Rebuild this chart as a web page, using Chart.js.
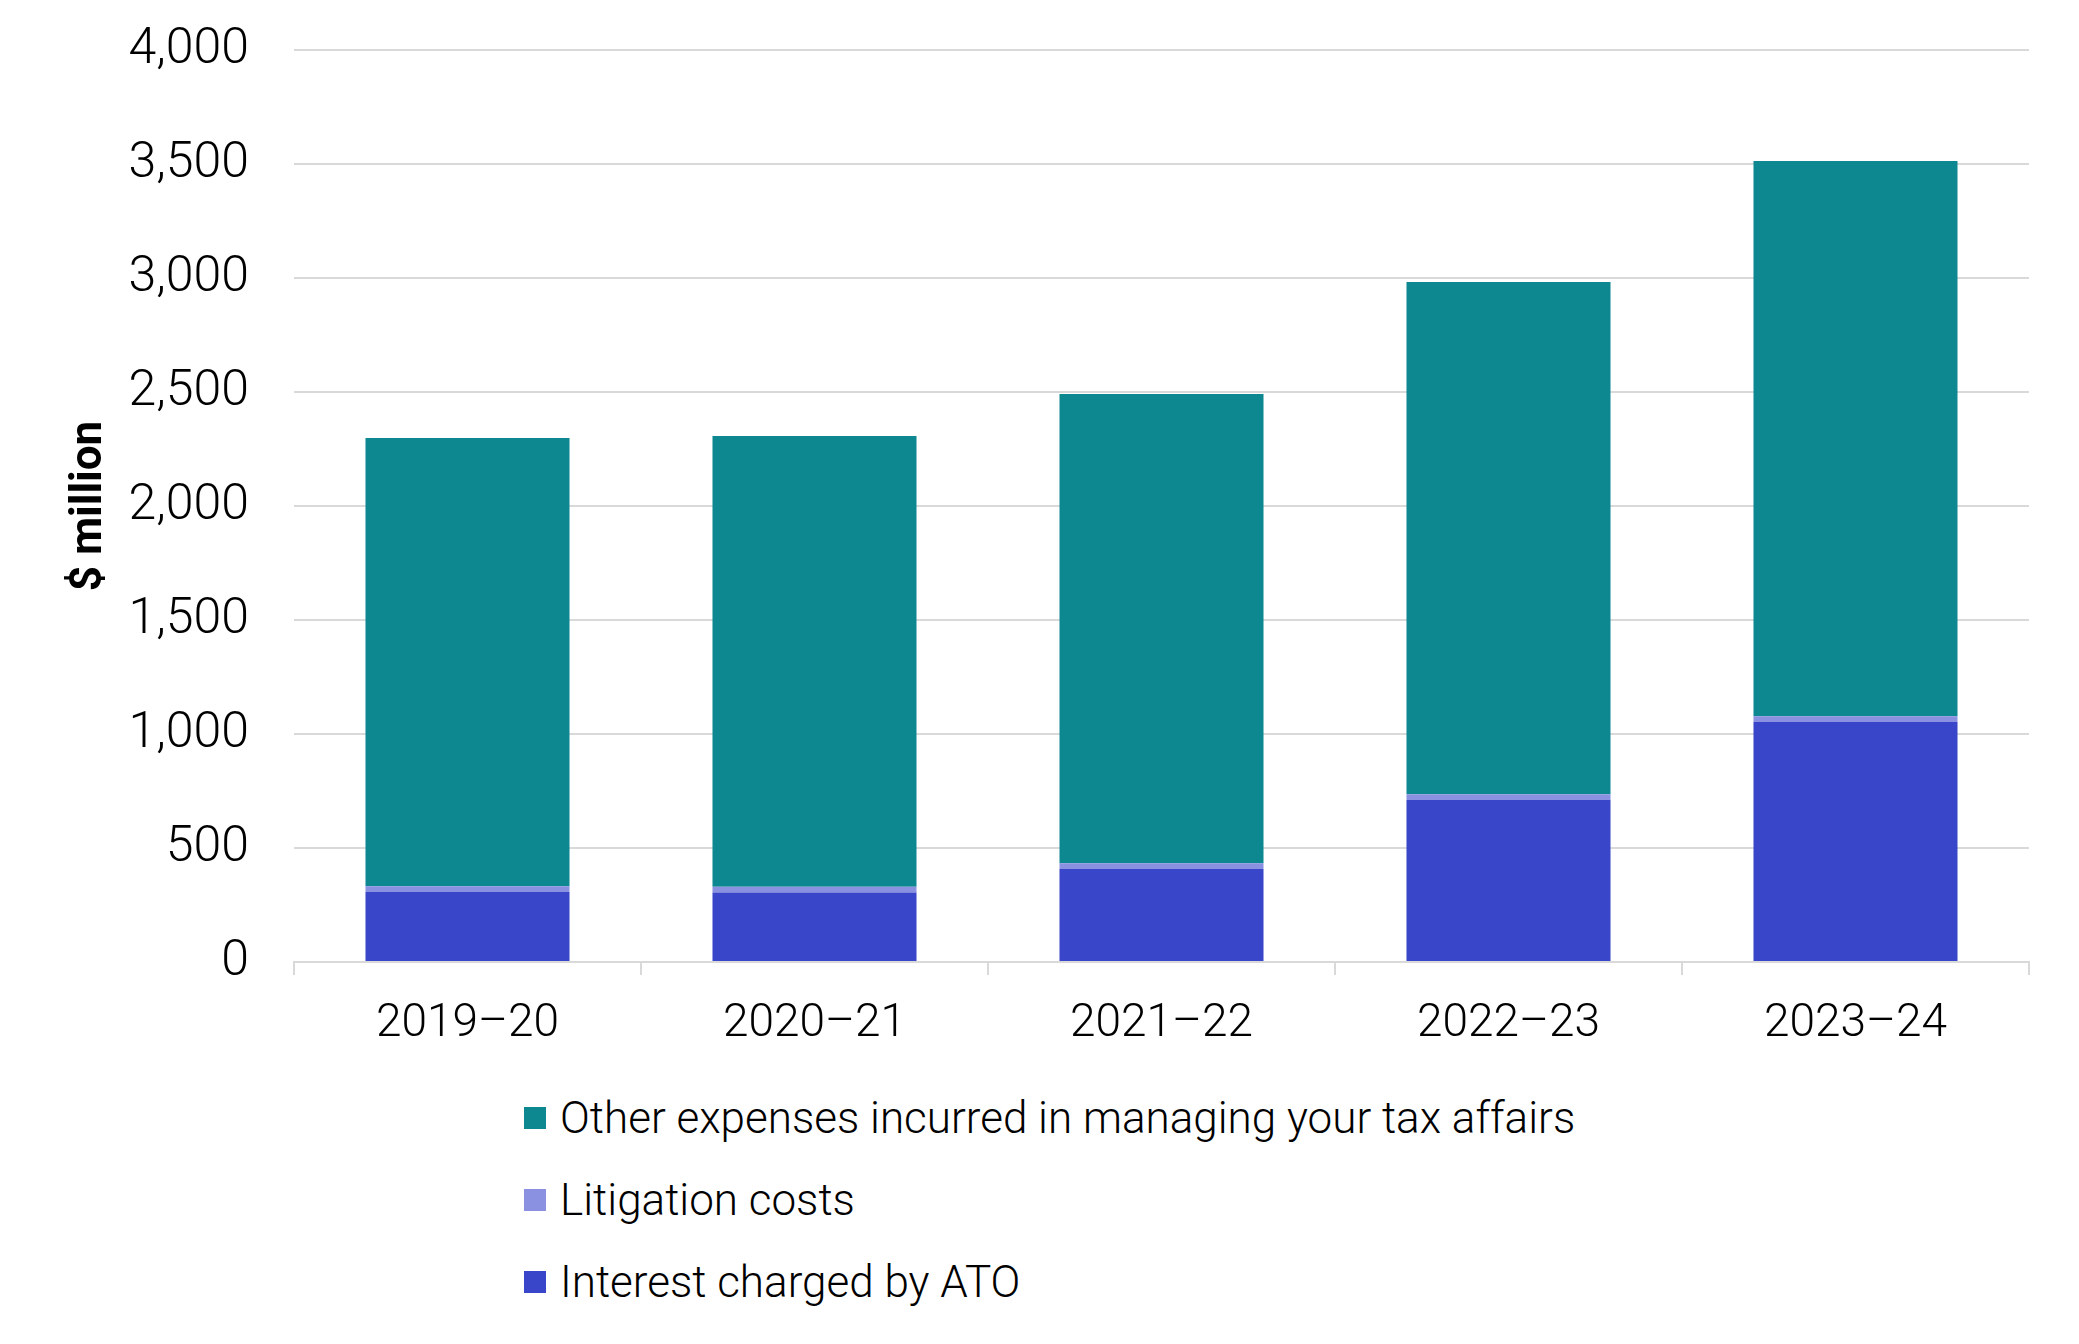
<!DOCTYPE html>
<html>
<head>
<meta charset="utf-8">
<script src="https://cdn.jsdelivr.net/npm/chart.js@4.4.1/dist/chart.umd.min.js"></script>
<style>
  body { margin: 0; background: #fff; }
  #wrap { position: relative; width: 2079px; height: 1344px; }
  #box { position: absolute; left: 0; top: 0; width: 2079px; height: 1060px; }
  #legend { position: absolute; left: 524px; top: 1077px; font-family: Roboto, sans-serif; font-weight: 300; font-size: 44px; color: #000; }
  #legend .item { display: flex; align-items: center; height: 82px; }
  #legend .sw { width: 22px; height: 22px; margin-right: 14px; }
</style>
</head>
<body>
<div id="wrap">
  <div id="box"><canvas id="myChart"></canvas></div>
  <div id="legend"></div>
</div>
<script>
// values in $ million
var years = ['2019\u201320', '2020\u201321', '2021\u201322', '2022\u201323', '2023\u201324'];
var interest = [307, 305, 408, 711, 1053];
var litigation = [25, 25, 25, 25, 25];
var other = [1966, 1977, 2058, 2246, 2435];
var yTicks = [0, 500, 1000, 1500, 2000, 2500, 3000, 3500, 4000];

var grey = '#d9d9d9';
var font = 'Roboto';

var ctx = document.getElementById('myChart').getContext('2d');
var chart = new Chart(ctx, {
  type: 'bar',
  data: {
    labels: years,
    datasets: [{
      label: 'Interest charged by ATO',
      backgroundColor: '#3946c9',
      data: interest
    }, {
      label: 'Litigation costs',
      backgroundColor: '#8a91e0',
      data: litigation
    }, {
      label: 'Other expenses incurred in managing your tax affairs',
      backgroundColor: '#0e8890',
      data: other
    }]
  },
  options: {
    responsive: true,
    maintainAspectRatio: false,
    animation: false,
    layout: { padding: { top: 50, right: 50, left: 0, bottom: 0 } },
    datasets: { bar: { categoryPercentage: 1, barPercentage: 0.588, borderWidth: 0 } },
    plugins: { legend: { display: false }, tooltip: { enabled: false } },
    scales: {
      x: {
        stacked: true,
        grid: { offset: true, drawOnChartArea: false, drawTicks: true, tickLength: 13, color: grey, lineWidth: 2 },
        border: { display: true, color: grey, width: 2 },
        ticks: { color: '#000', padding: 22, font: { family: font, size: 46, weight: 300 } },
        afterFit: function(s) { s.height = 98; }
      },
      y: {
        stacked: true,
        min: 0,
        max: 4000,
        afterBuildTicks: function(s) { s.ticks = yTicks.map(function(v) { return { value: v }; }); },
        grid: { drawTicks: false, color: grey, lineWidth: 2 },
        border: { display: false },
        ticks: {
          color: '#000', padding: 45, font: { family: font, size: 50, weight: 300 },
          callback: function(v) { return v.toLocaleString('en-US'); }
        },
        title: { display: true, text: '$ million', color: '#000', padding: { top: 64, bottom: 0 }, font: { family: font, size: 44, weight: 'bold' } },
        afterFit: function(s) { s.width = 294; s.paddingTop = 0; s.paddingBottom = 0; }
      }
    }
  }
});

// legend, listed top series first
var leg = document.getElementById('legend');
chart.data.datasets.slice().reverse().forEach(function(ds) {
  var row = document.createElement('div');
  row.className = 'item';
  var sw = document.createElement('span');
  sw.className = 'sw';
  sw.style.background = ds.backgroundColor;
  var t = document.createElement('span');
  t.textContent = ds.label;
  row.appendChild(sw);
  row.appendChild(t);
  leg.appendChild(row);
});
</script>
</body>
</html>
